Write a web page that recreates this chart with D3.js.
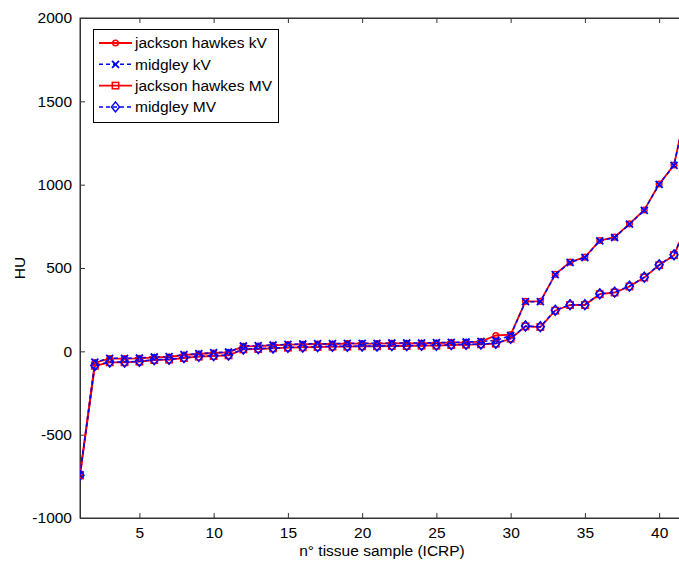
<!DOCTYPE html>
<html><head><meta charset="utf-8">
<script src="https://cdn.jsdelivr.net/npm/d3@7"></script>
<style>body{margin:0;background:#fff}svg{display:block}text{font-family:"Liberation Sans",Arial,sans-serif}</style>
</head><body>
<svg id="chart" width="679" height="561"></svg>
<script>
const samples = d3.range(1, 43);
const jacksonKV = [-742,-68,-44,-44,-42,-36,-34,-22,-16,-10,-6,30,32,36,40,42,44,44,46,46,46,48,48,48,50,52,54,58,95,100,300,300,462,535,565,665,685,765,848,1004,1118,1530];
const midgleyKV = [-740,-65,-42,-42,-40,-34,-32,-20,-14,-8,-4,32,34,38,42,44,46,46,48,48,48,50,50,50,52,54,56,60,65,95,298,298,460,533,563,663,683,763,846,1002,1116,1528];
const jacksonMV = [-745,-87,-66,-66,-62,-52,-50,-40,-32,-28,-24,12,14,18,22,24,26,28,28,30,30,32,32,34,34,38,40,42,46,76,150,146,244,278,278,343,353,389,443,517,577,788];
const midgleyMV = [-743,-85,-64,-64,-60,-50,-48,-38,-30,-26,-22,14,16,20,24,26,28,30,30,32,32,34,34,36,36,40,42,44,48,78,152,148,246,280,280,345,355,391,445,519,579,790];
const yTicks = [-1000,-500,0,500,1000,1500,2000];
const xTicks = [5,10,15,20,25,30,35,40];
const seriesNames = ["jackson hawkes kV","midgley kV","jackson hawkes MV","midgley MV"];

(function(){
const series = [
  {name: seriesNames[0], values: jacksonKV, color: "#ff0000", dash: null, marker: "circle"},
  {name: seriesNames[1], values: midgleyKV, color: "#0000ff", dash: "4,3", marker: "x"},
  {name: seriesNames[2], values: jacksonMV, color: "#ff0000", dash: null, marker: "square"},
  {name: seriesNames[3], values: midgleyMV, color: "#0000ff", dash: "4,3", marker: "diamond"}
];

const svg = d3.select("#chart");
const mLeft = 80, mTop = 18, mBottom = 518;
const x = d3.scaleLinear().domain([1, 42]).range([mLeft, mLeft + 41*14.85]);
const y = d3.scaleLinear().domain([-1000, 2000]).range([mBottom, mTop]);
const mRight = x(42);
const fmt = d => String(d);
const FS = 15.5;

svg.append("defs").append("clipPath").attr("id","clip")
  .append("rect").attr("x", mLeft).attr("y", mTop).attr("width", mRight-mLeft).attr("height", mBottom-mTop);

const axisColor = "#333";
svg.append("rect").attr("x", mLeft).attr("y", mTop).attr("width", mRight-mLeft).attr("height", mBottom-mTop)
  .attr("fill","none").attr("stroke", axisColor).attr("stroke-width",1);

const gx = svg.append("g").attr("transform", `translate(0,${mBottom})`)
  .call(d3.axisBottom(x).tickValues(xTicks).tickSize(-5).tickPadding(9).tickFormat(fmt));
const gxTop = svg.append("g").attr("transform", `translate(0,${mTop})`)
  .call(d3.axisTop(x).tickValues(xTicks).tickSize(-5).tickFormat(""));
const gy = svg.append("g").attr("transform", `translate(${mLeft},0)`)
  .call(d3.axisLeft(y).tickValues(yTicks).tickSize(-5).tickPadding(8).tickFormat(fmt));
const gyR = svg.append("g").attr("transform", `translate(${mRight},0)`)
  .call(d3.axisRight(y).tickValues(yTicks).tickSize(-5).tickFormat(""));
[gx,gxTop,gy,gyR].forEach(g=>{
  g.select(".domain").attr("stroke", axisColor);
  g.selectAll(".tick line").attr("stroke", axisColor);
  g.selectAll(".tick text").attr("fill","#000").attr("font-size", FS);
});

svg.append("text").attr("x", 382).attr("y", 556).attr("text-anchor","middle").attr("font-size",FS).text("n° tissue sample (ICRP)");
svg.append("text").attr("transform","translate(25,268) rotate(-90)").attr("text-anchor","middle").attr("font-size",FS).text("HU");

function drawMarker(g, type, cx, cy, color){
  if(type==="circle") g.append("circle").attr("cx",cx).attr("cy",cy).attr("r",2.8).attr("fill","none").attr("stroke",color).attr("stroke-width",1.5);
  else if(type==="square") g.append("rect").attr("x",cx-3.2).attr("y",cy-3.2).attr("width",6.4).attr("height",6.4).attr("fill","none").attr("stroke",color).attr("stroke-width",1.5);
  else if(type==="x") g.append("path").attr("d",`M${cx-3.5},${cy-3.5}L${cx+3.5},${cy+3.5}M${cx-3.5},${cy+3.5}L${cx+3.5},${cy-3.5}`).attr("stroke",color).attr("stroke-width",1.8);
  else if(type==="diamond") g.append("path").attr("d",`M${cx},${cy-5}L${cx+4},${cy}L${cx},${cy+5}L${cx-4},${cy}Z`).attr("fill","none").attr("stroke",color).attr("stroke-width",1.5);
}

const plot = svg.append("g").attr("clip-path","url(#clip)");
const line = d3.line().x((d,i)=>x(samples[i])).y(d=>y(d));
series.forEach(s=>{
  const g = plot.append("g");
  g.append("path").datum(s.values).attr("d", line).attr("fill","none")
    .attr("stroke", s.color).attr("stroke-width", s.color==="#ff0000"?1.8:1.5)
    .attr("stroke-dasharray", s.dash);
  s.values.forEach((v,i)=>drawMarker(g, s.marker, x(samples[i]), y(v), s.color));
});

const lg = svg.append("g");
lg.append("rect").attr("x",93.5).attr("y",29.5).attr("width",185).attr("height",93).attr("fill","#fff").attr("stroke","#000");
series.forEach((s,i)=>{
  const yy = 43 + i*21.3;
  lg.append("line").attr("x1",99).attr("x2",132).attr("y1",yy).attr("y2",yy)
    .attr("stroke", s.color).attr("stroke-width", s.color==="#ff0000"?1.8:1.5).attr("stroke-dasharray", s.dash);
  drawMarker(lg, s.marker, 115.5, yy, s.color);
  lg.append("text").attr("x",135).attr("y",yy).attr("dy","0.35em").attr("font-size",FS).text(s.name);
});
})();
</script>
</body></html>
